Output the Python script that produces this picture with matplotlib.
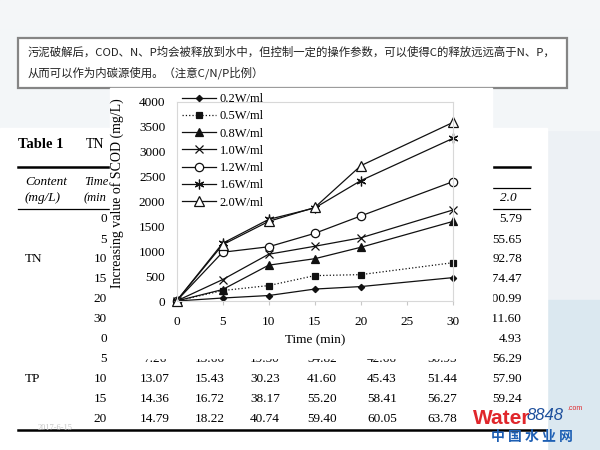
import matplotlib
matplotlib.use("Agg")
import matplotlib.pyplot as plt
from matplotlib.patches import Rectangle, FancyBboxPatch

plt.rcParams['font.family'] = ['Liberation Serif', 'DejaVu Serif']
CJK = ['Noto Sans CJK SC', 'DejaVu Sans']

# SCOD increase vs time for each ultrasonic density
time_min = [0, 5, 10, 15, 20, 30]
scod_02 = [0, 60, 110, 240, 290, 470]
scod_05 = [0, 210, 310, 510, 530, 770]
scod_08 = [0, 230, 720, 850, 1080, 1600]
scod_10 = [0, 430, 940, 1100, 1270, 1830]
scod_12 = [0, 980, 1090, 1360, 1710, 2400]
scod_16 = [0, 1160, 1640, 1870, 2420, 3270]
scod_20 = [0, 1130, 1600, 1880, 2720, 3590]
labels = ['0.2W/ml', '0.5W/ml', '0.8W/ml', '1.0W/ml', '1.2W/ml', '1.6W/ml', '2.0W/ml']

# table fragments visible around the chart
table_times = ['0', '5', '10', '15', '20', '30', '0', '5', '10', '15', '20']
col_20 = ['5.79', '55.65', '92.78', '174.47', '100.99', '111.60', '4.93', '56.29', '57.90', '59.24']
tp_5 = ['7.26', '13.66', '19.50', '34.82', '42.66', '50.95']
tp_10 = ['13.07', '15.43', '30.23', '41.60', '45.43', '51.44']
tp_15 = ['14.36', '16.72', '38.17', '55.20', '58.41', '56.27']
tp_20 = ['14.79', '18.22', '40.74', '59.40', '60.05', '63.78']

fig = plt.figure(figsize=(6, 4.5), dpi=100, facecolor='#edf1f5')

# background layer in pixel coordinates
bg = fig.add_axes([0, 0, 1, 1])
bg.set_xlim(0, 600)
bg.set_ylim(450, 0)
bg.axis('off')

bg.add_patch(Rectangle((0, 0), 600, 30, color='#f4f6f8', zorder=0))
bg.add_patch(Rectangle((0, 30), 600, 100, color='#f3f6f8', zorder=0))
bg.add_patch(Rectangle((547, 300), 53, 150, color='#dbe8f0', zorder=0))
bg.add_patch(Rectangle((0, 128), 547, 322, color='white', zorder=1))

# caption box
bg.add_patch(FancyBboxPatch((18, 38), 549, 50, boxstyle='square,pad=0',
                            fc='white', ec='#858585', lw=1.6, zorder=2))
bg.text(28, 52, '污泥破解后，COD、N、P均会被释放到水中，但控制一定的操作参数，可以使得C的释放远远高于N、P，',
        family=CJK, fontsize=8.2, va='center', color='#222222', zorder=3)
bg.text(28, 73, '从而可以作为内碳源使用。（注意C/N/P比例）',
        family=CJK, fontsize=8.2, va='center', color='#222222', zorder=3)

# table (only the parts not hidden by the chart)
bg.text(18, 145, 'Table 1', fontsize=10.5, fontweight='bold', va='center', zorder=3)
bg.text(86, 145, 'TN', fontsize=10, va='center', zorder=3)
bg.plot([18, 530], [167, 167], color='black', lw=1.8, zorder=3)
bg.plot([492, 530], [188, 188], color='black', lw=0.9, zorder=3)
bg.plot([18, 530], [209, 209], color='black', lw=0.9, zorder=3)
bg.plot([18, 545], [430, 430], color='black', lw=1.8, zorder=3)
bg.text(25, 182, 'Content', fontsize=9.5, style='italic', va='center', zorder=3)
bg.text(25, 198, '(mg/L)', fontsize=9.5, style='italic', va='center', zorder=3)
bg.text(84, 182, 'Time', fontsize=9, style='italic', va='center', zorder=3)
bg.text(84, 198, '(min', fontsize=9, style='italic', va='center', zorder=3)
bg.text(508, 198, '2.0', fontsize=9.5, style='italic', ha='center', va='center', zorder=3)
bg.text(25, 259, 'TN', fontsize=9.5, va='center', zorder=3)
bg.text(25, 379, 'TP', fontsize=9.5, va='center', zorder=3)

row_y = [219, 240, 259, 279, 299, 319, 339, 359, 379, 399, 419]
for y, t in zip(row_y, table_times):
    bg.text(107, y, t, fontsize=9.5, ha='right', va='center', zorder=3)
for y, v in zip(row_y, col_20):
    bg.text(522, y, v, fontsize=9.5, ha='right', va='center', zorder=3)
col_x = [155, 210, 265, 322, 382, 442]
for y, row in zip(row_y[7:], [tp_5, tp_10, tp_15, tp_20]):
    for x, v in zip(col_x, row):
        bg.text(x, y, v, fontsize=9.5, ha='center', va='center', zorder=3)
bg.text(38, 428, '2017-6-15', fontsize=6, color='#c4c4c4', va='center', zorder=4)

# white chart image pasted over the table
bg.add_patch(Rectangle((110, 88), 382, 270, color='white', zorder=10))

# logo
bg.text(473, 418, 'Water', fontsize=15, fontweight='bold', color='#e0262b',
        family=['Liberation Sans'], va='center', zorder=12)
bg.text(527, 416, '8848', fontsize=12, style='italic', color='#1d4f9c',
        family=['Liberation Sans'], va='center', zorder=12)
bg.text(567, 408, '.com', fontsize=5, color='#e0262b', family=['Liberation Sans'],
        va='center', zorder=12)
bg.text(532, 437, '中 国 水 业 网', fontsize=10, fontweight='bold', color='#1d5fb4',
        family=CJK, ha='center', va='center', zorder=12)

# chart axes placed on the pasted picture
left, right, top, bottom = 176.5, 453, 102, 301
ax = fig.add_axes([left / 600, (450 - bottom) / 450, (right - left) / 600, (bottom - top) / 450])
ax.set_zorder(5)
ax.patch.set_alpha(0)

series = [scod_02, scod_05, scod_08, scod_10, scod_12, scod_16, scod_20]
markers = ['D', 's', '^', 'x', 'o', (6, 2, 0), '^']
sizes = [3.2, 4, 6, 6, 6, 7, 7]
filled = [True, True, True, True, False, True, False]
styles = ['-', ':', '-', '-', '-', '-', '-']
for vals, lab, m, s, f, ls in zip(series, labels, markers, sizes, filled, styles):
    ax.plot(time_min, vals, color='#111111', lw=0.9, ls=ls, marker=m, ms=s,
            mfc='#111111' if f else 'white', mec='#111111', mew=0.9,
            label=lab, clip_on=False)

ax.set_xlim(0, 30)
ax.set_ylim(0, 4000)
ax.set_xticks(range(0, 31, 5))
ax.set_yticks(range(0, 4001, 500))
for sp in ax.spines.values():
    sp.set_color('#d8d8d8')
    sp.set_linewidth(0.8)
ax.tick_params(axis='x', length=3, color='#c8c8c8', pad=8, labelsize=9.5)
ax.tick_params(axis='y', length=0, pad=8, labelsize=9.5)
ax.set_xlabel('Time (min)', fontsize=9.5, labelpad=4)
ax.set_ylabel('Increasing value of SCOD (mg/L)', fontsize=10)
ax.yaxis.set_label_coords(-0.19, 0.54)

ax.legend(loc='upper left', bbox_to_anchor=(0.02, 1.045), frameon=False,
          fontsize=9, handlelength=2.7, handletextpad=0.3, labelspacing=0.42,
          borderpad=0, borderaxespad=0)

fig.savefig('out.png', dpi=100, facecolor=fig.get_facecolor())
